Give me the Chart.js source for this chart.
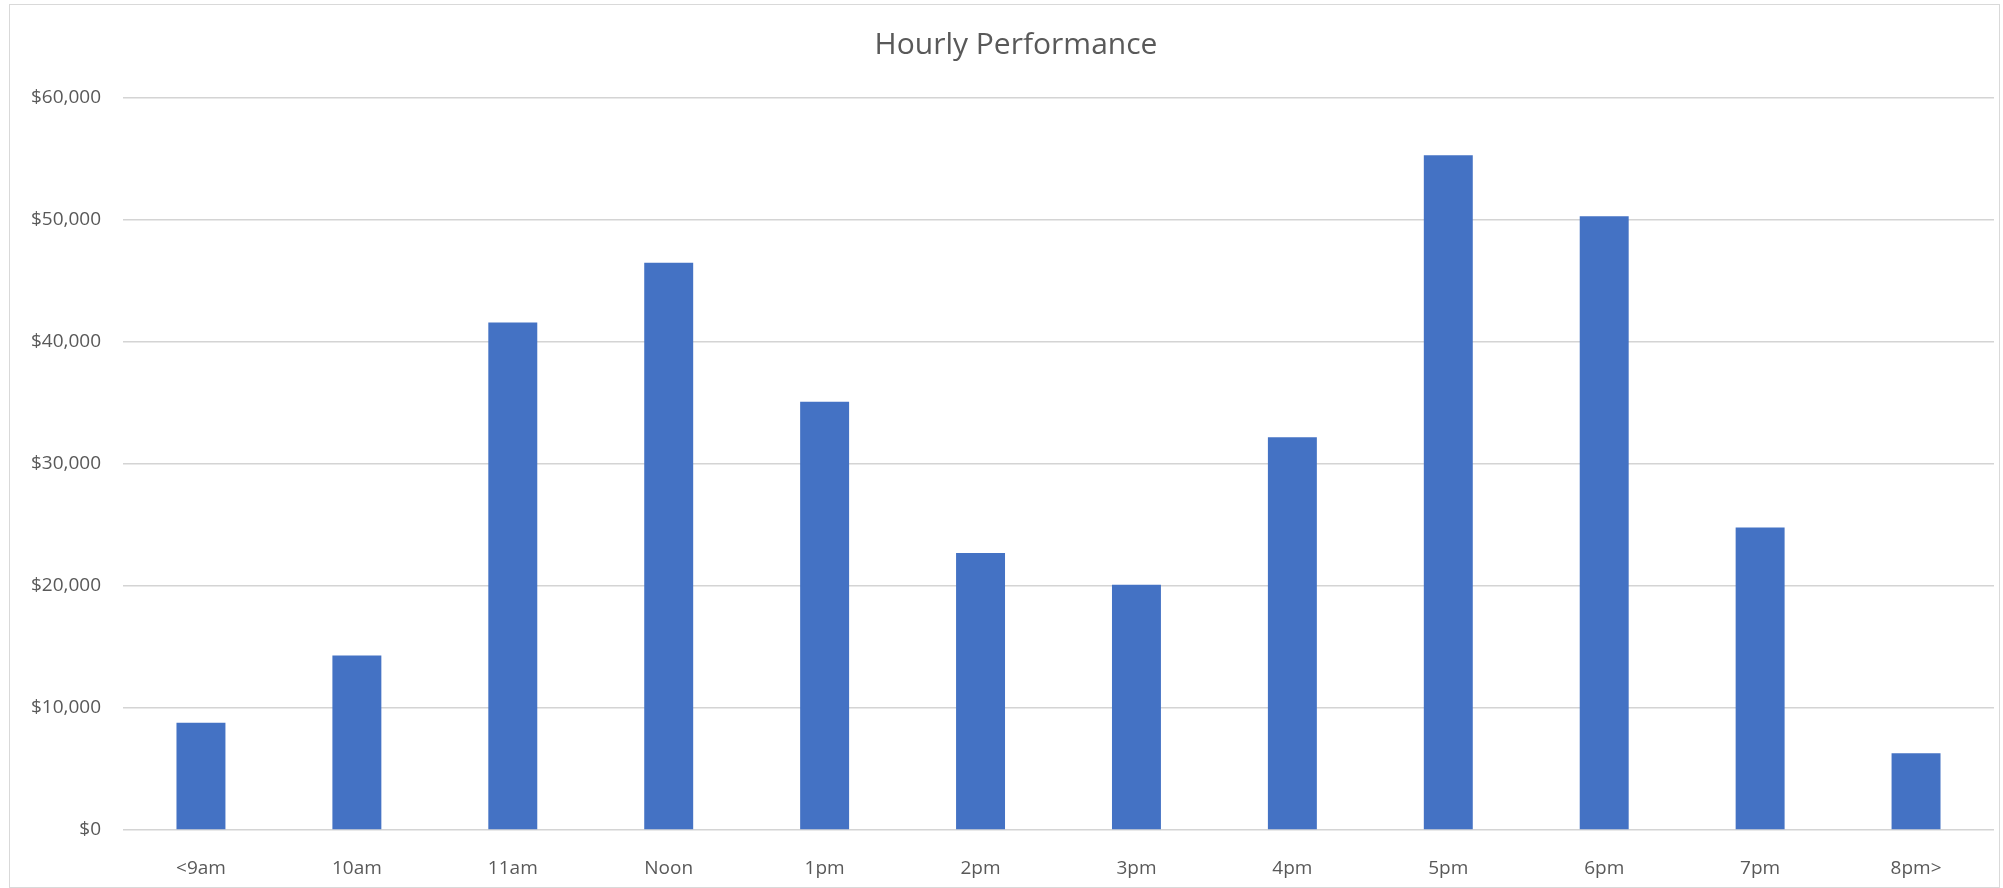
<!DOCTYPE html>
<html>
<head>
<meta charset="utf-8">
<script src="https://cdn.jsdelivr.net/npm/chart.js@4"></script>
<style>
  body { margin: 0; background: #fff; }
  #marco {
    position: absolute; left: 9px; top: 4px;
    width: 1989px; height: 882px;
    border: 1px solid #d9d9d9;
  }
  #wrap { position: absolute; left: 0; top: 0; width: 2003px; height: 888px; }
</style>
</head>
<body>
<div id="marco"></div>
<div id="wrap"><canvas id="myChart"></canvas></div>
<script>
// datos
const horas = ["<9am", "10am", "11am", "Noon", "1pm", "2pm", "3pm", "4pm", "5pm", "6pm", "7pm", "8pm>"];
const ventas = [8800, 14300, 41600, 46500, 35100, 22700, 20100, 32200, 55300, 50300, 24800, 6300];
const ticksY = [0, 10000, 20000, 30000, 40000, 50000, 60000];

const textoGris = "#595959";
const fuente = "'Open Sans', sans-serif";

const data = {
  labels: horas,
  datasets: [
    {
      label: "Ventas",
      backgroundColor: "#4472c4",
      data: ventas,
      categoryPercentage: 1,
      barPercentage: 0.314,
    },
  ],
};

// corre el titulo un poco a la derecha como en el original
const moverTitulo = {
  id: "moverTitulo",
  afterLayout(chart) {
    chart.titleBlock.left += 14;
    chart.titleBlock.right += 14;
  },
};

const config = {
  type: "bar",
  data: data,
  plugins: [moverTitulo],
  options: {
    responsive: false,
    animation: false,
    layout: { padding: { left: 10, right: 9, top: 0, bottom: 8 } },
    plugins: {
      legend: { display: false },
      tooltip: { enabled: false },
      title: {
        display: true,
        text: "Hourly Performance",
        color: textoGris,
        font: { family: fuente, size: 30, weight: "normal", lineHeight: 1.2 },
        padding: { top: 27, bottom: 35 },
      },
    },
    scales: {
      x: {
        grid: { display: false },
        border: { display: false },
        ticks: {
          color: textoGris,
          font: { family: fuente, size: 19 },
          padding: 19,
          maxRotation: 0,
        },
        afterFit: (axis) => { axis.height = 50; },
      },
      y: {
        min: ticksY[0],
        max: ticksY[ticksY.length - 1],
        afterBuildTicks: (axis) => { axis.ticks = ticksY.map((v) => ({ value: v })); },
        grid: { color: "#d4d4d4", lineWidth: 1.4, drawTicks: false },
        border: { display: false },
        ticks: {
          color: textoGris,
          font: { family: fuente, size: 19 },
          padding: 22,
          callback: (v) => "$" + v.toLocaleString("en-US"),
        },
        afterFit: (axis) => { axis.width = 113; },
      },
    },
  },
};

const canvas = document.getElementById("myChart");
canvas.width = 2003;
canvas.height = 888;
var myChart = new Chart(canvas, config);
</script>
</body>
</html>
